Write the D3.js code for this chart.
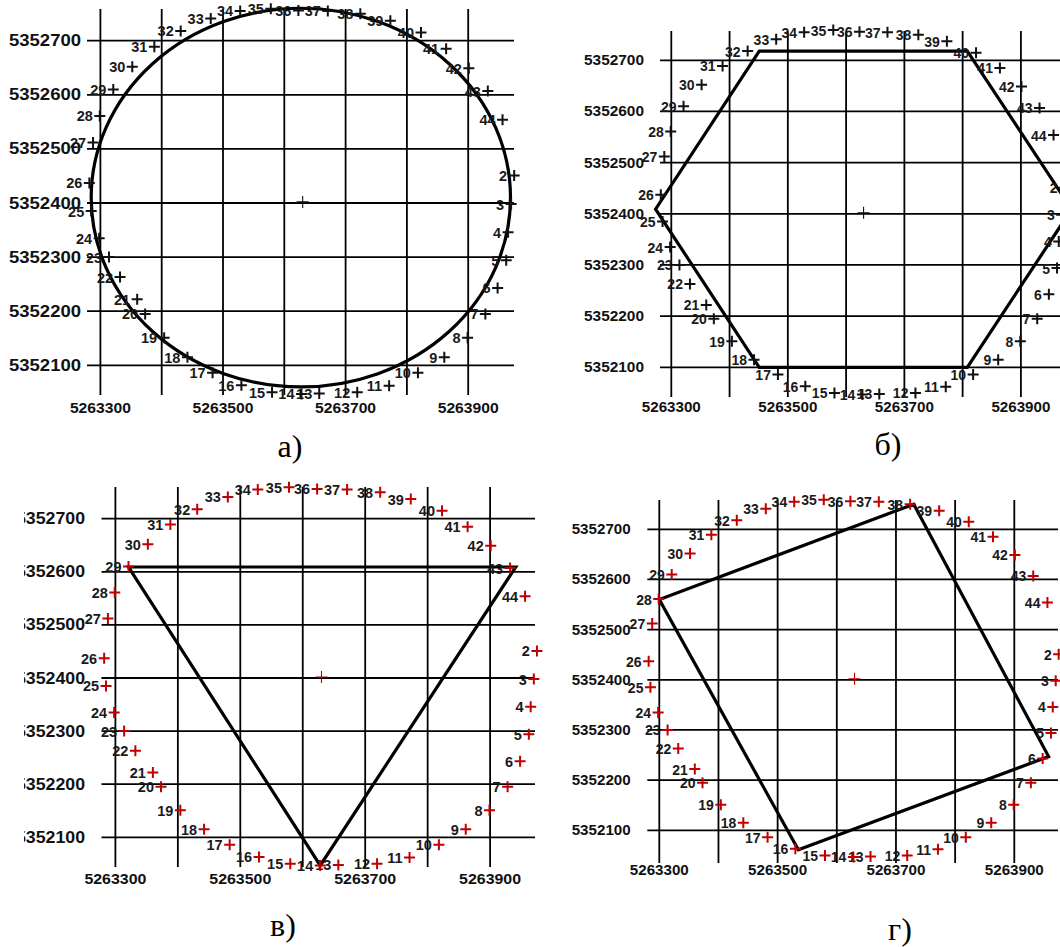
<!DOCTYPE html>
<html>
<head>
<meta charset="utf-8">
<script src="https://cdn.jsdelivr.net/npm/d3@7"></script>
<style>
  body { margin: 0; background: #fff; }
  text { font-family: "Liberation Sans", Arial, sans-serif; }
</style>
</head>
<body>
<div id="chart"></div>
<script>
// survey points 2..44 (easting / northing, metres)
const pointIds = [2, 3, 4, 5, 6, 7, 8, 9, 10, 11, 12, 13, 14, 15, 16, 17, 18, 19, 20, 21, 22, 23,
  24, 25, 26, 27, 28, 29, 30, 31, 32, 33, 34, 35, 36, 37, 38, 39, 40, 41, 42, 43, 44];
const pointX = [5263975, 5263970, 5263965, 5263962, 5263948, 5263928, 5263899, 5263861, 5263818,
  5263771, 5263719, 5263657, 5263628, 5263580, 5263530, 5263483, 5263442, 5263404, 5263373,
  5263360, 5263332, 5263314, 5263298, 5263285, 5263282, 5263288, 5263299, 5263321, 5263352,
  5263388, 5263431, 5263480, 5263528, 5263578, 5263623, 5263671, 5263724, 5263773, 5263823,
  5263864, 5263901, 5263932, 5263956];
const pointY = [5352451, 5352398, 5352346, 5352294, 5352243, 5352195, 5352151, 5352115, 5352086,
  5352062, 5352050, 5352048, 5352047, 5352050, 5352063, 5352086, 5352115, 5352151, 5352195,
  5352222, 5352263, 5352300, 5352335, 5352385, 5352437, 5352512, 5352561, 5352610, 5352652,
  5352689, 5352718, 5352741, 5352755, 5352759, 5352756, 5352755, 5352750, 5352737, 5352715,
  5352685, 5352649, 5352607, 5352554];
const centreX = 5263630, centreY = 5352402;

const gridX = [5263300, 5263400, 5263500, 5263600, 5263700, 5263800, 5263900];
const gridY = [5352100, 5352200, 5352300, 5352400, 5352500, 5352600, 5352700];
const tickX = [5263300, 5263500, 5263700, 5263900];
const tickY = [5352100, 5352200, 5352300, 5352400, 5352500, 5352600, 5352700];

// outlines
const circleCx = 5263627, circleCy = 5352410, circleRx = 342, circleRy = 350;
const hexX = [5263451, 5263808, 5263987, 5263808, 5263451, 5263273];
const hexY = [5352718, 5352718, 5352409, 5352100, 5352100, 5352409];
const triX = [5263321, 5263941, 5263628];
const triY = [5352609, 5352609, 5352047];
const sqX = [5263730, 5263958, 5263535, 5263300];
const sqY = [5352750, 5352247, 5352061, 5352560];

const captions = ["а)", "б)", "в)", "г)"];

const panels = [
  { xr: [100.4, 468.2], yr: [365.3, 40.7], hx: [87, 514], vy: [9, 395],
    yLabR: 81, yLabW: 72, yLabF: 16, xLabY: 407, xLabW: 61, xLabF: 15, ptF: 14.5,
    mark: "#111", cap: [290, 457], clipX: 0, shape: "ellipse" },
  { xr: [671.3, 1020.9], yr: [367.3, 60.3], hx: [660, 1060], vy: [31, 397],
    yLabR: 644, yLabW: 60, yLabF: 14.5, xLabY: 407.3, xLabW: 59, xLabF: 14.5, ptF: 14,
    mark: "#111", cap: [888, 455], clipX: 530, shape: "hex" },
  { xr: [115.4, 490.1], yr: [837.3, 518.7], hx: [101.5, 535], vy: [487, 867],
    yLabR: 85, yLabW: 69, yLabF: 16, xLabY: 878.3, xLabW: 62, xLabF: 15, ptF: 14.5,
    mark: "#c00000", cap: [283, 936], clipX: 24, shape: "tri" },
  { xr: [659.3, 1014.3], yr: [830.3, 529.3], hx: [647.3, 1058], vy: [500, 863],
    yLabR: 630.7, yLabW: 59, yLabF: 14.5, xLabY: 870, xLabW: 59, xLabF: 14.5, ptF: 14,
    mark: "#c00000", cap: [900, 940], clipX: 545, shape: "sq" }
];

const W = 1060, H = 947;
const svg = d3.select("#chart").append("svg")
  .attr("width", W).attr("height", H)
  .style("display", "block");

const defs = svg.append("defs");
const clipY = [[0, 470], [0, 470], [470, H], [470, H]];

panels.forEach((p, i) => {
  defs.append("clipPath").attr("id", "clip" + i)
    .append("rect")
    .attr("x", p.clipX).attr("y", clipY[i][0])
    .attr("width", W - p.clipX).attr("height", clipY[i][1] - clipY[i][0]);

  const x = d3.scaleLinear().domain([5263300, 5263900]).range(p.xr);
  const y = d3.scaleLinear().domain([5352100, 5352700]).range(p.yr);
  const g = svg.append("g").attr("clip-path", `url(#clip${i})`);

  // grid
  g.selectAll(".hl").data(gridY).enter().append("line")
    .attr("x1", p.hx[0]).attr("x2", p.hx[1])
    .attr("y1", d => y(d)).attr("y2", d => y(d))
    .attr("stroke", "#000").attr("stroke-width", 1.8);
  g.selectAll(".vl").data(gridX).enter().append("line")
    .attr("x1", d => x(d)).attr("x2", d => x(d))
    .attr("y1", p.vy[0]).attr("y2", p.vy[1])
    .attr("stroke", "#000").attr("stroke-width", 1.8);

  // tick labels
  g.selectAll(".yt").data(tickY).enter().append("text")
    .attr("x", p.yLabR - p.yLabW).attr("y", d => y(d))
    .attr("dominant-baseline", "central")
    .attr("font-size", p.yLabF).attr("font-weight", "bold").attr("fill", "#111")
    .attr("textLength", p.yLabW).attr("lengthAdjust", "spacingAndGlyphs")
    .text(d => d);
  g.selectAll(".xt").data(tickX).enter().append("text")
    .attr("x", d => x(d) - p.xLabW / 2).attr("y", p.xLabY)
    .attr("dominant-baseline", "central")
    .attr("font-size", p.xLabF).attr("font-weight", "bold").attr("fill", "#111")
    .attr("textLength", p.xLabW).attr("lengthAdjust", "spacingAndGlyphs")
    .text(d => d);

  // outline shape
  const outline = g.append("g").attr("fill", "none").attr("stroke", "#000")
    .attr("stroke-width", 3.2).attr("stroke-linejoin", "miter");
  if (p.shape === "ellipse") {
    outline.append("ellipse")
      .attr("cx", x(circleCx)).attr("cy", y(circleCy))
      .attr("rx", x(circleCx + circleRx) - x(circleCx))
      .attr("ry", y(circleCy) - y(circleCy + circleRy));
  } else {
    const xs = p.shape === "hex" ? hexX : p.shape === "tri" ? triX : sqX;
    const ys = p.shape === "hex" ? hexY : p.shape === "tri" ? triY : sqY;
    const line = d3.line().x(d => x(xs[d])).y(d => y(ys[d])).curve(d3.curveLinearClosed);
    outline.append("path").attr("d", line(d3.range(xs.length)));
  }

  // points
  const pts = g.selectAll(".pt").data(d3.range(pointIds.length)).enter().append("g")
    .attr("transform", k => `translate(${x(pointX[k])},${y(pointY[k])})`);
  pts.append("path").attr("d", "M-5.5,0H5.5M0,-5.5V5.5")
    .attr("stroke", p.mark).attr("stroke-width", 2);
  pts.append("text")
    .attr("x", -7).attr("y", 0.5)
    .attr("text-anchor", "end").attr("dominant-baseline", "central")
    .attr("font-size", p.ptF).attr("font-weight", "bold").attr("fill", "#1a1a1a")
    .text(k => pointIds[k]);

  // centre mark
  g.append("path")
    .attr("transform", `translate(${x(centreX)},${y(centreY)})`)
    .attr("d", "M-6,0H6M0,-6V6")
    .attr("stroke", p.mark).attr("stroke-width", 1.1);

  svg.append("text")
    .attr("x", p.cap[0]).attr("y", p.cap[1])
    .attr("text-anchor", "middle")
    .style("font-family", "'Liberation Serif', 'Times New Roman', serif")
    .attr("font-size", 32).attr("fill", "#000")
    .text(captions[i]);
});
</script>
</body>
</html>
